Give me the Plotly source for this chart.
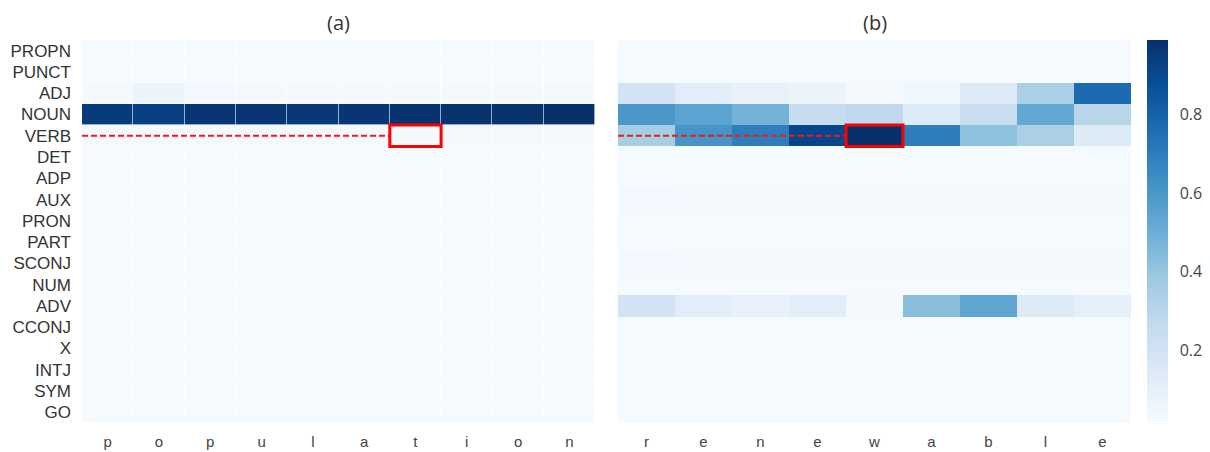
import plotly.graph_objects as go

pos_tags = ["PROPN", "PUNCT", "ADJ", "NOUN", "VERB", "DET", "ADP", "AUX", "PRON",
            "PART", "SCONJ", "NUM", "ADV", "CCONJ", "X", "INTJ", "SYM", "GO"]

chars_a = ["p", "o", "p", "u", "l", "a", "t", "i", "o", "n"]
chars_b = ["r", "e", "n", "e", "w", "a", "b", "l", "e"]

base = 0.025

# Panel (a): rows in pos_tags order, columns in chars_a order
a_ADJ = [0.03, 0.07, 0.035, 0.03, 0.03, 0.03, 0.03, 0.03, 0.03, 0.03]
a_NOUN = [0.95, 0.93, 0.97, 0.97, 0.96, 0.97, 0.98, 0.98, 0.98, 0.99]
a_VERB = [0.03, 0.03, 0.03, 0.03, 0.03, 0.03, 0.03, 0.03, 0.03, 0.03]

# Panel (b)
b_ADJ = [0.20, 0.12, 0.09, 0.07, 0.03, 0.05, 0.14, 0.34, 0.77]
b_NOUN = [0.60, 0.55, 0.48, 0.25, 0.28, 0.14, 0.24, 0.53, 0.30]
b_VERB = [0.36, 0.61, 0.70, 0.91, 0.99, 0.70, 0.42, 0.34, 0.14]
b_ADV = [0.20, 0.12, 0.09, 0.12, 0.03, 0.43, 0.54, 0.14, 0.11]
b_AUX = [0.04, 0.03, 0.03, 0.03, 0.03, 0.03, 0.03, 0.03, 0.03]
b_SCONJ = [0.04, 0.03, 0.03, 0.03, 0.03, 0.03, 0.03, 0.03, 0.03]

highlight_a = 6   # 't'
highlight_b = 4   # 'w'
highlight_row = pos_tags.index("VERB")

z_a = []
for tag in pos_tags:
    row = {"ADJ": a_ADJ, "NOUN": a_NOUN, "VERB": a_VERB}.get(tag, [base] * len(chars_a))
    z_a.append(row)

z_b = []
for tag in pos_tags:
    row = {"ADJ": b_ADJ, "NOUN": b_NOUN, "VERB": b_VERB, "ADV": b_ADV,
           "AUX": b_AUX, "SCONJ": b_SCONJ}.get(tag, [base] * len(chars_b))
    z_b.append(row)

blues = [
    [0.0, "#f7fbff"], [0.125, "#deebf7"], [0.25, "#c6dbef"], [0.375, "#9ecae1"],
    [0.5, "#6baed6"], [0.625, "#4292c6"], [0.75, "#2171b5"], [0.875, "#08519c"],
    [1.0, "#08306b"],
]

# page has an 8px body margin, so the figure is 8px smaller and coordinates shift by 8
OFF = 8
W, H = 1210 - OFF, 452 - OFF


def px_x(v):
    return (v - OFF) / W


def px_y(v):
    return (H - (v - OFF)) / H


fig = go.Figure()

fig.add_trace(go.Heatmap(
    z=z_a, x=list(range(len(chars_a))), y=list(range(len(pos_tags))),
    coloraxis="coloraxis", xgap=0.6, ygap=0.6, xaxis="x", yaxis="y",
    hoverinfo="skip"))
fig.add_trace(go.Heatmap(
    z=z_b, x=list(range(len(chars_b))), y=list(range(len(pos_tags))),
    coloraxis="coloraxis", xaxis="x2", yaxis="y2", hoverinfo="skip"))

xd1 = [px_x(82), px_x(595)]
xd2 = [px_x(618), px_x(1131)]
yd = [px_y(423), px_y(40)]

tickfont_y = dict(family="Liberation Sans, Arial", size=17, color="#333333")
tickfont_x = dict(family="Liberation Sans, Arial", size=15, color="#444444")

fig.update_layout(
    width=W, height=H,
    margin=dict(l=0, r=0, t=0, b=0),
    paper_bgcolor="white", plot_bgcolor="white",
    showlegend=False,
    coloraxis=dict(
        colorscale=blues, cmin=0.015, cmax=0.99,
        colorbar=dict(
            x=px_x(1147), xanchor="left", xpad=0, ypad=0,
            y=(yd[0] + yd[1]) / 2, yanchor="middle",
            len=yd[1] - yd[0], lenmode="fraction",
            thickness=21, thicknessmode="pixels",
            outlinewidth=0, ticks="outside", ticklen=9, tickcolor="rgba(0,0,0,0)",
            tickvals=[0.2, 0.4, 0.6, 0.8], ticktext=["0.2", "0.4", "0.6", "0.8"],
            tickfont=dict(family="Open Sans, Liberation Sans", size=16, color="#444444"),
        ),
    ),
    xaxis=dict(domain=xd1, range=[-0.5, len(chars_a) - 0.5], tickvals=list(range(len(chars_a))),
               ticktext=chars_a, showgrid=False, zeroline=False, ticks="", tickfont=tickfont_x,
               automargin=False, anchor="y", ticklabelstandoff=8),
    yaxis=dict(domain=yd, range=[len(pos_tags) - 0.5, -0.5], tickvals=list(range(len(pos_tags))),
               ticktext=pos_tags, showgrid=False, zeroline=False, ticks="", tickfont=tickfont_y,
               automargin=False, anchor="x", ticklabelstandoff=10),
    xaxis2=dict(domain=xd2, range=[-0.5, len(chars_b) - 0.5], tickvals=list(range(len(chars_b))),
                ticktext=chars_b, showgrid=False, zeroline=False, ticks="", tickfont=tickfont_x,
                automargin=False, anchor="y2", ticklabelstandoff=8),
    yaxis2=dict(domain=yd, range=[len(pos_tags) - 0.5, -0.5], showticklabels=False,
                showgrid=False, zeroline=False, ticks="", anchor="x2", automargin=False),
)

# Titles
for txt, dom in (("(a)", xd1), ("(b)", xd2)):
    fig.add_annotation(text=txt, x=(dom[0] + dom[1]) / 2, y=px_y(22),
                       xref="paper", yref="paper", showarrow=False,
                       xanchor="center", yanchor="middle",
                       font=dict(family="Open Sans, Liberation Sans", size=20, color="#333333"))

# Highlights: dashed guide line + red box
for xr, yr, col in (("x", "y", highlight_a), ("x2", "y2", highlight_b)):
    fig.add_shape(type="line", xref=xr, yref=yr, x0=-0.5, x1=col - 0.5,
                  y0=highlight_row, y1=highlight_row,
                  line=dict(color="#f01a1a", width=1.8, dash="6px,3px"))
    fig.add_shape(type="rect", xref=xr, yref=yr, x0=col - 0.5, x1=col + 0.5,
                  y0=highlight_row - 0.5, y1=highlight_row + 0.5,
                  line=dict(color="#ff0000", width=3))

fig.write_html("out.html")
